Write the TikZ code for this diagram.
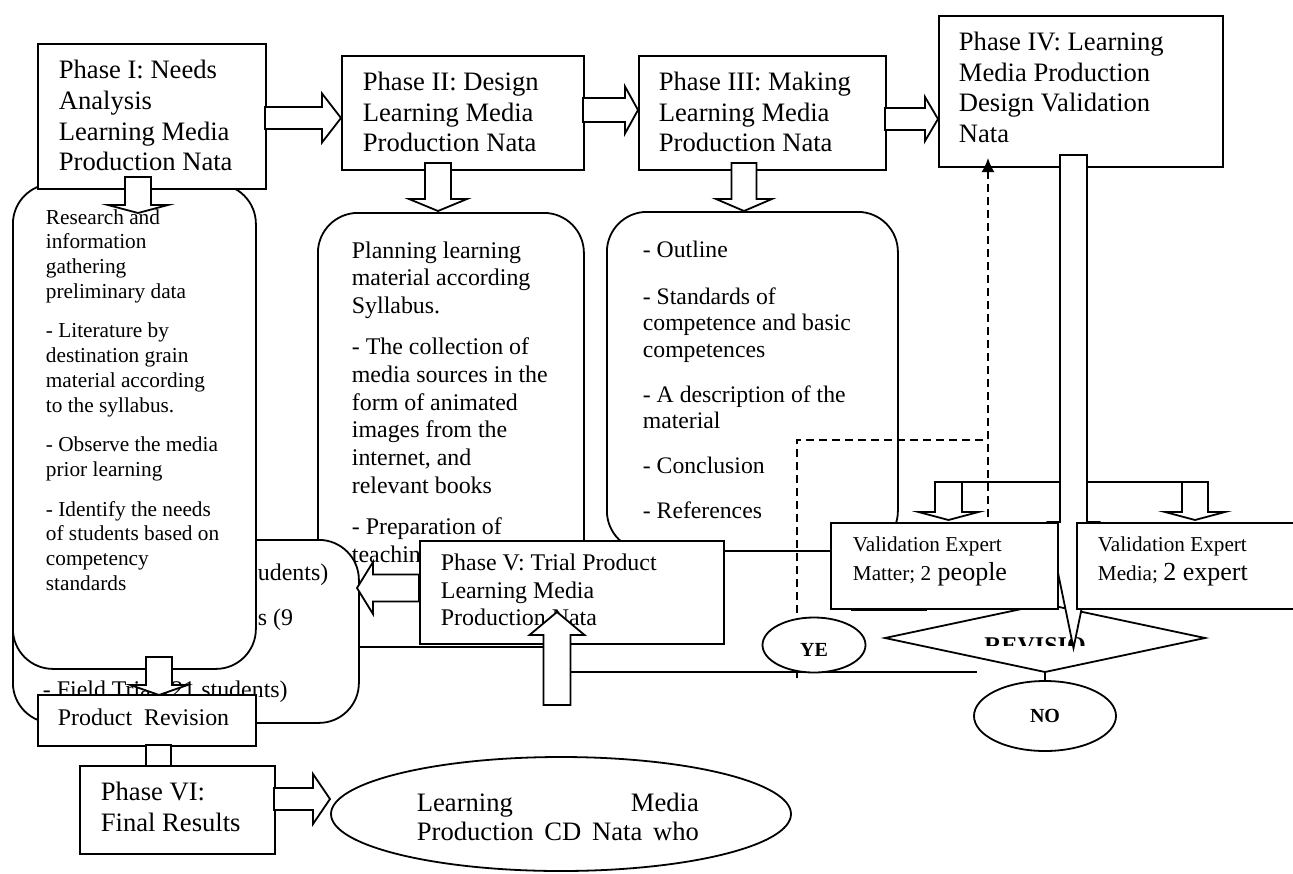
\documentclass[tikz,border=0pt]{standalone}
\usepackage{fontspec}
\setmainfont{Liberation Serif}
\usetikzlibrary{arrows.meta,shapes.geometric}
\newcommand\fs[2]{\fontsize{#1}{#2}\selectfont}
% horizontal block arrow: start x, tip x, centre y, shaft half, head half, head length (negative = leftward)
\newcommand\arrR[6]{\draw[blk] (#1,{#3-#4}) -- ({#2-(#6)},{#3-#4}) -- ({#2-(#6)},{#3-#5}) -- (#2,#3) -- ({#2-(#6)},{#3+#5}) -- ({#2-(#6)},{#3+#4}) -- (#1,{#3+#4}) -- cycle;}
% vertical block arrow: centre x, start y, tip y, shaft half, head half, head length (negative = upward)
\newcommand\arrD[6]{\draw[blk] ({#1-#4},#2) -- ({#1-#4},{#3-(#6)}) -- ({#1-#5},{#3-(#6)}) -- (#1,#3) -- ({#1+#5},{#3-(#6)}) -- ({#1+#4},{#3-(#6)}) -- ({#1+#4},#2) -- cycle;}
\begin{document}
\begin{tikzpicture}[x=1pt,y=-1pt,line width=1.8pt,
  box/.style={draw,fill=white,inner sep=0,anchor=north west,line width=1.8pt},
  rbox/.style={box,rounded corners=40pt},
  txt/.style={inner sep=0,anchor=north west,align=left},
  lbl/.style={inner sep=0,anchor=base west},
  blk/.style={draw,fill=white,line width=1.8pt,line join=miter},
  dsh/.style={dash pattern=on 8pt off 5pt,line width=1.8pt},
  oval/.style={draw,fill=white,ellipse,inner sep=0,line width=1.8pt}]
\useasboundingbox (0,0) rectangle (1293,873);

% Phase II detail box
\node[rbox,minimum width=266,minimum height=434] (bb) at (317,212) {};
\node[txt,font=\fs{23.9}{27.8}] (bt) at (351,237.7) {\strut Planning learning\\material according\\Syllabus.\\[13pt]- The collection of\\media sources in the\\form of animated\\images from the\\internet, and\\relevant books\\[13pt]- Preparation of\\teaching};

% Phase III detail box
\node[rbox,minimum width=291,minimum height=339] (cc) at (606,211) {};
\node[txt,font=\fs{23.7}{26.5}] (ct) at (642,238.4) {\strut - Outline\\[20pt]- Standards of\\competence and basic\\competences\\[18.5pt]- A description of the\\material\\[18.5pt]- Conclusion\\[18.5pt]- References};

% Phase V detail box (mostly hidden)
\node[rbox,minimum width=346,minimum height=183] (ee) at (12,539) {};
\node[lbl,font=\fs{23.9}{27.8}] (e1) at (257,580) {udents)};
\node[lbl,font=\fs{23.9}{27.8}] (e2) at (257,625) {s (9};
\node[lbl,font=\fs{23.9}{27.8}] (e3) at (42,697) {- Field Trial (21 students)};

% Phase I detail box
\node[rbox,minimum width=243,minimum height=485] (aa) at (12,183) {};

% line at the bottom
\coordinate (l1) at (571,672);
\coordinate (l2) at (977,672);
\draw (l1) -- (l2);

% phase boxes
\node[box,minimum width=228,minimum height=145] (p1) at (37,43) {};
\node[txt,font=\fs{26.6}{30.7}] (p1t) at (58,56.5) {\strut Phase I: Needs\\Analysis\\Learning Media\\Production Nata};
\node[box,minimum width=242,minimum height=114] (p2) at (341,55) {};
\node[txt,font=\fs{26.6}{30.5}] (p2t) at (362,68.6) {\strut Phase II: Design\\Learning Media\\Production Nata};
\node[box,minimum width=247,minimum height=114] (p3) at (638,55) {};
\node[txt,font=\fs{26.6}{30.5}] (p3t) at (658,68.6) {\strut Phase III: Making\\Learning Media\\Production Nata};
\node[box,minimum width=284,minimum height=151] (p4) at (938,15) {};
\node[txt,font=\fs{26.6}{30.5}] (p4t) at (958,28.6) {\strut Phase IV: Learning\\Media Production\\Design Validation\\Nata};

% block arrows between phases
\arrR{265}{341}{118}{11}{24.5}{19}
\arrR{583}{638}{110}{12}{23.5}{13}
\arrR{885}{938}{119}{11}{22}{13}
\arrD{138}{177}{213}{13}{30}{8}
\arrD{438}{163}{211}{13}{29}{12}
\arrD{744}{163}{211}{12.5}{28}{12}

\node[txt,font=\fs{21.3}{24.7}] (at) at (45,206) {\strut Research and\\information\\gathering\\preliminary data\\[15pt]- Literature by\\destination grain\\material according\\to the syllabus.\\[15pt]- Observe the media\\prior learning\\[15pt]- Identify the needs\\of students based on\\competency\\standards};

% dashed feedback
\coordinate (d0) at (988,517);
\coordinate (d1) at (988,158);
\coordinate (y0) at (797,678);
\coordinate (y1) at (797,440);
\coordinate (y2) at (988,440);
\draw[dsh,-{Latex[length=14pt,width=13pt]}] (d0) -- (d1);
\draw[dsh] (y0) -- (y1) -- (y2);

% Phase V
\node[box,minimum width=304,minimum height=103] (p5) at (419,540) {};
\node[txt,font=\fs{23.9}{27.5}] (p5t) at (440,550.8) {\strut Phase V: Trial Product\\Learning Media\\Production Nata};
\arrR{419}{357}{588}{13.5}{26}{-16}
\arrD{557}{705}{612}{13.5}{27.5}{-23}

% product revision and phase VI
\arrD{159}{657}{695}{13}{28.5}{10}
\node[box,minimum width=218,minimum height=51] (pr) at (37,694) {};
\node[inner sep=0,anchor=base,font=\fs{23.9}{27}] (prt) at (143.5,725) {Product\ \ Revision};
\arrD{158.5}{745}{790}{12.5}{25}{10}
\node[box,minimum width=195,minimum height=88] (p6) at (79,765) {};
\node[txt,font=\fs{26.6}{31}] (p6t) at (100,778.3) {\strut Phase VI:\\Final Results};
\arrR{274}{330}{799}{11}{25}{17}
\node[oval,minimum width=460,minimum height=114] (fin) at (561,814) {};
\node[txt,font=\fs{26.6}{29}] (fint) at (416,790.7) {\strut\makebox[282pt][s]{Learning Media}\\\makebox[282pt][s]{Production CD Nata who}};

% revision diamond
\coordinate (dL) at (885,638);
\coordinate (dT) at (1045,604);
\coordinate (dR) at (1205,638);
\coordinate (dB) at (1045,672);
\draw[fill=white] (dL) -- (dT) -- (dR) -- (dB) -- cycle;
\begin{scope}
  \clip (970,630) rectangle (1110,645.5);
  \node[inner sep=0,anchor=base,font=\fs{24}{28}\bfseries] (rev) at (1035,653) {REVISIO};
\end{scope}

% tall arrow from phase IV
\arrD{1073.5}{155}{648}{13.5}{26}{126}

% distribution to validation boxes
\draw (948.5,482) -- (1060,482);
\draw (1087,482) -- (1208,482);
\arrD{948.5}{482}{520}{13.5}{30}{8}
\arrD{1195}{482}{520}{13}{30}{8}

\node[box,minimum width=227,minimum height=86] (vm) at (830,522) {};
\node[lbl,font=\fs{21.2}{25}] (vm1) at (852,551) {Validation Expert};
\node[lbl,font=\fs{21.2}{25}] (vm2) at (852,580) {Matter; 2{\fs{26}{30} people}};
\draw[line width=3pt] (851,609.5) -- (927,609.5);
\node[box,minimum width=220,minimum height=86] (vd) at (1076,522) {};
\node[lbl,font=\fs{21.2}{25}] (vd1) at (1097,551) {Validation Expert};
\node[lbl,font=\fs{21.2}{25}] (vd2) at (1097,580) {Media; {\fs{26}{30}2 expert}};

% YES / NO
\node[oval,minimum width=103,minimum height=55] (ye) at (814,645) {};
\node[inner sep=0,font=\fs{20}{24}\bfseries] at (ye.center) [yshift=-5pt] {YE};
\node[oval,minimum width=142,minimum height=70] (no) at (1045,716) {};
\node[inner sep=0,font=\fs{20}{24}\bfseries] at (no.center) {NO};
\draw (dB) -- (no);
\end{tikzpicture}
\end{document}
